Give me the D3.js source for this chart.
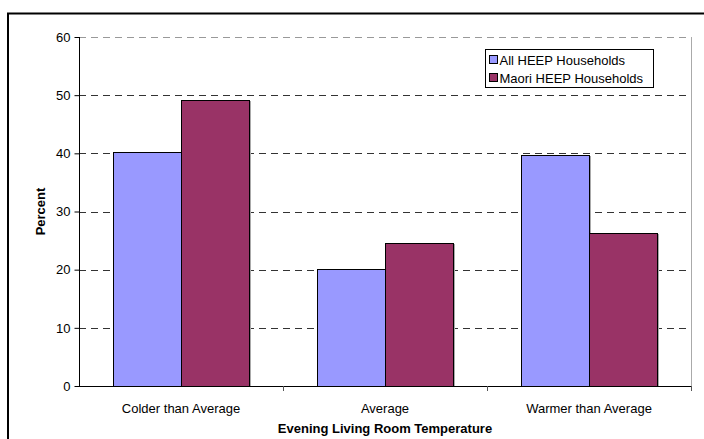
<!DOCTYPE html>
<html><head><meta charset="utf-8">
<script src="https://cdn.jsdelivr.net/npm/d3@7"></script>
<style>body{margin:0;background:#fff}svg{display:block;font-family:"Liberation Sans",Arial,sans-serif}</style>
</head><body>
<script>
const categories = ["Colder than Average", "Average", "Warmer than Average"];
const seriesNames = ["All HEEP Households", "Maori HEEP Households"];
const allHEEP = [40.2, 20.1, 39.7];
const maoriHEEP = [49.1, 24.6, 26.3];
const yTicks = [0, 10, 20, 30, 40, 50, 60];
const colors = ["#9999FF", "#993366"];

const W = 704, H = 439, FS = 13;
const svg = d3.select("body").append("svg").attr("width", W).attr("height", H);

// outer frame
svg.append("rect").attr("x", 8).attr("y", 13.5).attr("width", 720).attr("height", 460)
  .attr("fill", "none").attr("stroke", "#000").attr("stroke-width", 2);

const m = {l: 79, r: 691, t: 37, b: 386};
const x = d3.scaleBand().domain(categories).range([m.l, m.r]);
const y = d3.scaleLinear().domain([0, 60]).range([m.b, m.t]);

// gridlines
svg.append("g").selectAll("line").data(yTicks.filter(d => d > 0)).join("line")
  .attr("x1", m.l).attr("x2", m.r)
  .attr("y1", d => Math.round(y(d)) + 0.5).attr("y2", d => Math.round(y(d)) + 0.5)
  .attr("stroke", d => d === 60 ? "#999" : "#333").attr("stroke-dasharray", "7,5").attr("stroke-width", 1);

// right plot border
svg.append("line").attr("x1", m.r + 0.5).attr("x2", m.r + 0.5).attr("y1", m.t).attr("y2", m.b)
  .attr("stroke", "#aaa");

const data = categories.map((c, i) => ({cat: c, vals: [allHEEP[i], maoriHEEP[i]]}));
const gap = 1.0;
const xs = d3.scaleBand().domain([0, 1]).range([x.bandwidth() * gap / (2 + gap) / 2, x.bandwidth() - x.bandwidth() * gap / (2 + gap) / 2]).padding(0);

const groups = svg.append("g").selectAll("g").data(data).join("g")
  .attr("transform", d => `translate(${x(d.cat)},0)`);
// shadows
groups.selectAll("rect.sh").data(d => d.vals.map((v, k) => ({v, k}))).join("rect").attr("class", "sh")
  .attr("x", d => Math.round(xs(d.k)) + 1.5).attr("y", d => Math.round(y(d.v)) + 1.5)
  .attr("width", Math.round(xs.bandwidth())).attr("height", d => m.b - Math.round(y(d.v)) - 1.5)
  .attr("fill", "none").attr("stroke", "#aaa").attr("stroke-width", 1);
groups.selectAll("rect.b").data(d => d.vals.map((v, k) => ({v, k}))).join("rect").attr("class", "b")
  .attr("x", d => Math.round(xs(d.k)) + 0.5).attr("y", d => Math.round(y(d.v)) + 0.5)
  .attr("width", Math.round(xs.bandwidth())).attr("height", d => m.b - Math.round(y(d.v)))
  .attr("fill", d => colors[d.k]).attr("stroke", "#000").attr("stroke-width", 1);

// y axis
const yAxis = svg.append("g").attr("transform", `translate(${m.l + 0.5},0)`)
  .call(d3.axisLeft(y).tickValues(yTicks).tickSize(5).tickPadding(4));
yAxis.select(".domain").attr("stroke", "#000").attr("d", `M0,${m.t}V${m.b + 0.5}`);
yAxis.selectAll(".tick line").attr("stroke", "#000");
yAxis.selectAll(".tick text").attr("font-size", FS).attr("fill", "#000").attr("font-family", "Liberation Sans, Arial, sans-serif");

// x axis
const xAxis = svg.append("g").attr("transform", `translate(0,${m.b + 0.5})`)
  .call(d3.axisBottom(x).tickSize(0).tickPadding(17));
xAxis.select(".domain").attr("stroke", "#000").attr("d", `M${m.l},0H${m.r + 1}`);
xAxis.selectAll(".tick text").attr("font-size", FS).attr("fill", "#000").attr("font-family", "Liberation Sans, Arial, sans-serif");
// category separators
svg.append("g").selectAll("line").data([...categories.slice(1).map(c => x(c)), m.r]).join("line")
  .attr("x1", d => Math.round(d) + 0.5).attr("x2", d => Math.round(d) + 0.5)
  .attr("y1", m.b).attr("y2", m.b + 5).attr("stroke", "#555");

// axis titles
svg.append("text").attr("transform", `translate(45,${(m.t + m.b) / 2}) rotate(-90)`)
  .attr("text-anchor", "middle").attr("font-size", FS).attr("font-weight", "bold").text("Percent");
svg.append("text").attr("x", (m.l + m.r) / 2).attr("y", 433)
  .attr("text-anchor", "middle").attr("font-size", FS).attr("font-weight", "bold").text("Evening Living Room Temperature");

// legend
const lg = svg.append("g").attr("transform", "translate(485.5,49.5)");
lg.append("rect").attr("width", 168).attr("height", 38).attr("fill", "#fff").attr("stroke", "#000");
seriesNames.forEach((n, i) => {
  lg.append("rect").attr("x", 4).attr("y", 6 + i * 18).attr("width", 8).attr("height", 8)
    .attr("fill", colors[i]).attr("stroke", "#000");
  lg.append("text").attr("x", 14).attr("y", 15 + i * 18).attr("font-size", FS).text(n);
});
</script>
</body></html>
